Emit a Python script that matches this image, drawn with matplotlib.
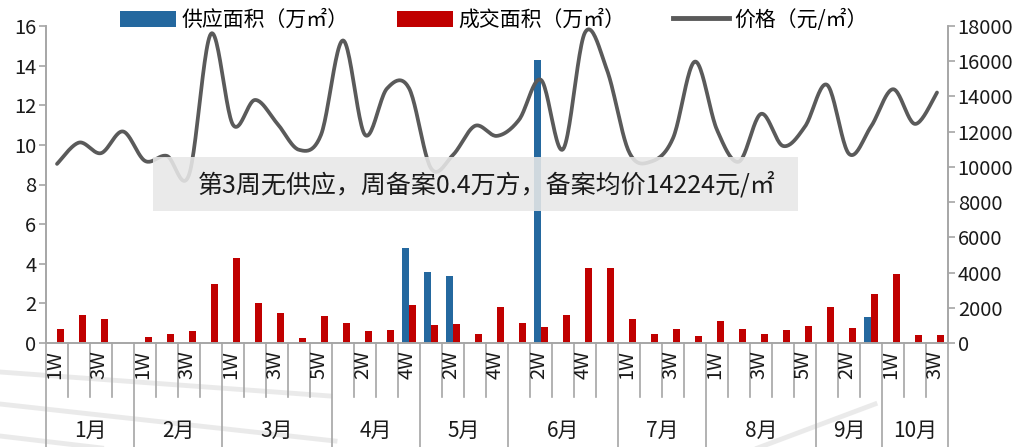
import numpy as np
import matplotlib
matplotlib.use("Agg")
import matplotlib.pyplot as plt
from matplotlib.patches import Rectangle, Patch
from matplotlib.lines import Line2D
from matplotlib.transforms import blended_transform_factory

plt.rcParams['font.family'] = ['Noto Sans CJK SC', 'DejaVu Sans']

# ---- data ----
months = ['1月', '2月', '3月', '4月', '5月', '6月', '7月', '8月', '9月', '10月']
weeks_per_month = [4, 4, 5, 4, 4, 5, 4, 5, 3, 3]

# supply area (10k m²) per week
supply = [0, 0, 0, 0,
          0, 0, 0, 0,
          0, 0, 0, 0, 0,
          0, 0, 0, 4.8,
          3.6, 3.4, 0, 0,
          0, 14.3, 0, 0, 0,
          0, 0, 0, 0,
          0, 0, 0, 0, 0,
          0, 0, 1.3,
          0, 0, 0]

# transaction area (10k m²) per week
deals = [0.7, 1.4, 1.2, 0,
         0.3, 0.45, 0.6, 3.0,
         4.3, 2.0, 1.5, 0.25, 1.35,
         1.0, 0.6, 0.65, 1.9,
         0.9, 0.95, 0.45, 1.8,
         1.0, 0.8, 1.4, 3.8, 3.8,
         1.2, 0.45, 0.7, 0.35,
         1.1, 0.7, 0.45, 0.65, 0.85,
         1.8, 0.75, 2.45,
         3.5, 0.4, 0.4]

# average price (yuan/m²) per week
price = [10170, 11380, 10780, 12010,
         10340, 10620, 9550, 17560,
         12390, 13800, 12480, 10970, 11820,
         17180, 11820, 14450, 14470,
         9920, 10680, 12330, 11760,
         12670, 14940, 11000, 17630, 15500,
         10850, 10300, 11630, 15980,
         12100, 10300, 13010, 11190, 12290,
         14660, 10740, 12290,
         14410, 12440, 14224]

note = '第3周无供应，周备案0.4万方，备案均价14224元/㎡'
legend_labels = ['供应面积（万㎡）', '成交面积（万㎡）', '价格（元/㎡）']

week_labels = []
for n in weeks_per_month:
    week_labels += [f'{k + 1}W' for k in range(n)]

BLUE = '#24689F'
RED = '#C00000'
LINE = '#5A5A5A'
AXIS = '#A6A6A6'
TXT = '#1A1A1A'
FS = 14.5


def smooth(xs, ys, steps=24):
    """Bezier smoothing through the points (control arms = 1/6 of neighbour chord)."""
    xs = np.asarray(xs, float)
    ys = np.asarray(ys, float)
    px = np.concatenate([[xs[0]], xs, [xs[-1]]])
    py = np.concatenate([[ys[0]], ys, [ys[-1]]])
    ox, oy = [], []
    t = np.linspace(0, 1, steps, endpoint=False)
    for i in range(1, len(px) - 2):
        p0 = np.array([px[i], py[i]])
        p3 = np.array([px[i + 1], py[i + 1]])
        p1 = p0 + (np.array([px[i + 1], py[i + 1]]) - np.array([px[i - 1], py[i - 1]])) / 6
        p2 = p3 - (np.array([px[i + 2], py[i + 2]]) - np.array([px[i], py[i]])) / 6
        b = ((1 - t) ** 3)[:, None] * p0 + (3 * (1 - t) ** 2 * t)[:, None] * p1 \
            + (3 * (1 - t) * t ** 2)[:, None] * p2 + (t ** 3)[:, None] * p3
        ox.extend(b[:, 0])
        oy.extend(b[:, 1])
    ox.append(xs[-1])
    oy.append(ys[-1])
    return np.array(ox), np.array(oy)


W, H = 1025, 447
fig = plt.figure(figsize=(W / 100, H / 100), dpi=100)
L, R, B, T = 46, 948, 343, 26
ax = fig.add_axes([L / W, 1 - B / H, (R - L) / W, (B - T) / H])
ax2 = ax.twinx()

x = np.arange(len(week_labels))
bw = 0.3
ax.bar(x - bw / 2, supply, width=bw, color=BLUE, zorder=2)
ax.bar(x + bw / 2, deals, width=bw, color=RED, zorder=2)

sx, sy = smooth(x, price)
ax2.plot(sx, sy, color=LINE, lw=2.7, solid_capstyle='round', zorder=3)

ax.set_xlim(-0.5, len(x) - 0.5)
ax.set_ylim(0, 16)
ax.set_yticks(range(0, 17, 2))
ax2.set_ylim(0, 18000)
ax2.set_yticks(range(0, 18001, 2000))

for a in (ax, ax2):
    for s in a.spines.values():
        s.set_color(AXIS)
        s.set_linewidth(1.2)
    a.spines['top'].set_visible(False)
    a.tick_params(axis='y', colors=AXIS, labelcolor=TXT, labelsize=FS,
                  length=5, width=1.2, pad=2)
ax.patch.set_visible(False)
ax.set_xticks([])

# multi-level category axis
tr = blended_transform_factory(ax.transData, ax.transAxes)
ah = B - T
wk_bot = -(397 - B) / ah
mo_bot = -(H - B + 2) / ah
bounds = np.cumsum([0] + weeks_per_month) - 0.5
month_edges = set(np.round(bounds, 1))
for i in range(len(x) + 1):
    xb = i - 0.5
    yb = mo_bot if round(xb, 1) in month_edges else wk_bot
    ax.plot([xb, xb], [0, yb], transform=tr, color=AXIS, lw=1.2, clip_on=False, zorder=1)

for i, lab in enumerate(week_labels):
    if i % 2 == 0:
        ax.text(i - 0.1, -(350 - B) / ah, lab, transform=tr, rotation=90, ha='center', va='top',
                fontsize=FS, color=TXT)

for m, lab in enumerate(months):
    cx = (bounds[m] + bounds[m + 1]) / 2
    ax.text(cx, -(431 - B) / ah, lab, transform=tr, ha='center', va='center',
            fontsize=FS + 0.5, color=TXT)

# note box
fig.patches.append(Rectangle((153 / W, 1 - 211 / H), (798 - 153) / W, (211 - 157) / H,
                             transform=fig.transFigure, facecolor='#E8E8E8',
                             edgecolor='none', alpha=0.88, zorder=5))
fig.text(487 / W, 1 - 185 / H, note, ha='center', va='center', fontsize=18,
         color=TXT, zorder=6)

# legend
handles = [Patch(facecolor=BLUE), Patch(facecolor=RED),
           Line2D([0], [0], color=LINE, lw=3.5)]
fig.legend(handles, legend_labels, loc='center', bbox_to_anchor=(494 / W, 1 - 20 / H),
           ncol=3, frameon=False, fontsize=15, handlelength=2.7, handleheight=0.8,
           handletextpad=0.25, columnspacing=2.3, borderaxespad=0)

# faint shading streaks across the lower left
for (x0, y0, x1, y1) in [(0, 372, 330, 396), (0, 404, 335, 441), (0, 436, 110, 449),
                         (755, 449, 875, 404)]:
    fig.add_artist(Line2D([x0 / W, x1 / W], [1 - y0 / H, 1 - y1 / H], transform=fig.transFigure,
                          color='#BBBBBB', lw=3.5, alpha=0.3, zorder=0))

fig.savefig('out.png', dpi=100)
